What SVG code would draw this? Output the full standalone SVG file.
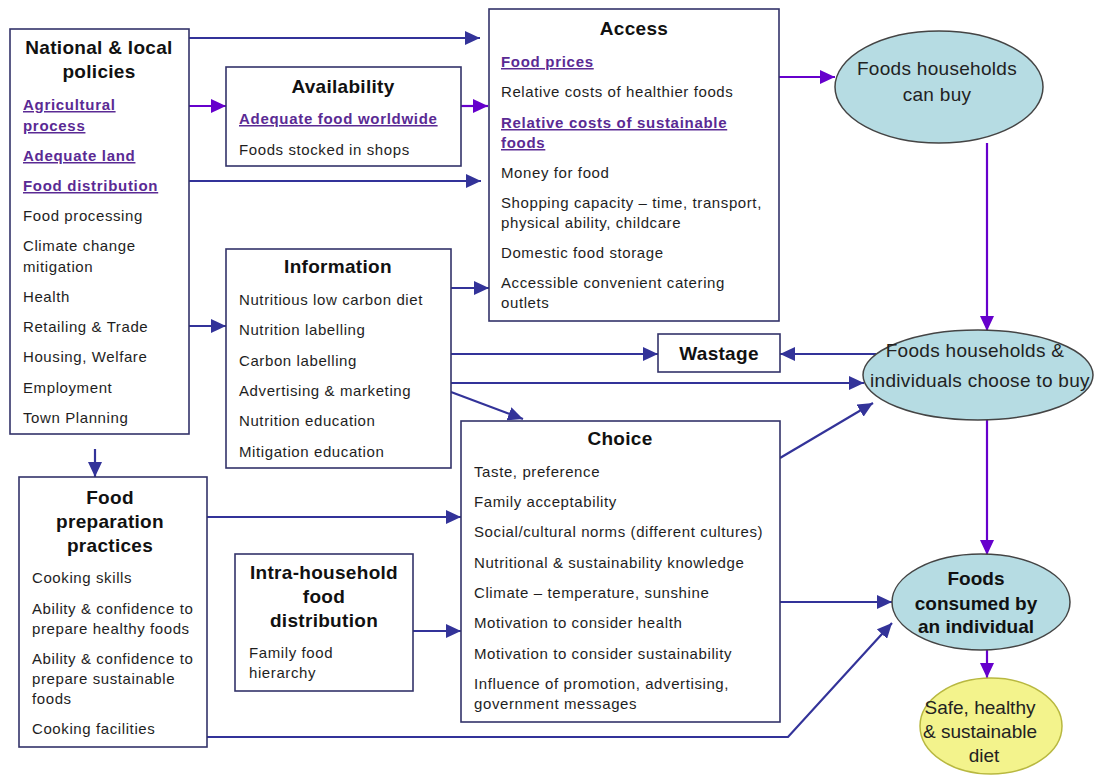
<svg xmlns="http://www.w3.org/2000/svg" width="1094" height="781" viewBox="0 0 1094 781">
<style>
.box{fill:#ffffff;stroke:#33336a;stroke-width:1.6}
.t{font-family:"Liberation Sans",Arial,sans-serif;font-size:15px;letter-spacing:0.6px;fill:#1e1e1e}
.lk{font-family:"Liberation Sans",Arial,sans-serif;font-size:15px;font-weight:bold;letter-spacing:0.7px;fill:#5a2a94;text-decoration:underline}
.h{font-family:"Liberation Sans",Arial,sans-serif;font-size:19px;font-weight:bold;letter-spacing:0.3px;fill:#111;text-anchor:middle}
.e{font-family:"Liberation Sans",Arial,sans-serif;font-size:19px;letter-spacing:0.3px;fill:#222;text-anchor:middle}
.eb{font-family:"Liberation Sans",Arial,sans-serif;font-size:19px;font-weight:bold;fill:#111;text-anchor:middle}
.blue{fill:none;stroke:#333399;stroke-width:2.2;marker-end:url(#ab)}
.pur{fill:none;stroke:#6600cc;stroke-width:2.2;marker-end:url(#ap)}
.ell{fill:#b6dce3;stroke:#444;stroke-width:1.5}
</style>
<defs>
<marker id="ab" markerWidth="16" markerHeight="14" refX="15" refY="7" orient="auto" markerUnits="userSpaceOnUse"><path d="M0,0 L15,7 L0,14 z" fill="#333399"/></marker>
<marker id="ap" markerWidth="16" markerHeight="14" refX="15" refY="7" orient="auto" markerUnits="userSpaceOnUse"><path d="M0,0 L15,7 L0,14 z" fill="#6600cc"/></marker>
</defs>
<rect width="1094" height="781" fill="#ffffff"/>

<g id="connectors">
<path class="blue" d="M189,38 H480"/>
<path class="blue" d="M189,181 H481"/>
<path class="blue" d="M189,326 H226"/>
<path class="blue" d="M451,288 H489"/>
<path class="blue" d="M451,354 H658"/>
<path class="blue" d="M876,354 H780"/>
<path class="blue" d="M451,383 H864"/>
<path class="blue" d="M451,392 L523,419"/>
<path class="blue" d="M95,449 V477"/>
<path class="blue" d="M207,517 H461"/>
<path class="blue" d="M413,631 H461"/>
<path class="blue" d="M780,458 L873,403"/>
<path class="blue" d="M780,602 H892"/>
<path class="blue" d="M207,737 H788 L892,623"/>
<path class="pur" d="M189,106 H226"/>
<path class="pur" d="M461,106 H488"/>
<path class="pur" d="M779,77 H835"/>
<path class="pur" d="M987,143 V331"/>
<path class="pur" d="M987,419 V555"/>
<path class="pur" d="M987,650 V678"/>
</g>

<g id="national">
<rect class="box" x="10" y="29" width="179" height="405"/>
<text class="h" x="99" y="54">National &amp; local</text>
<text class="h" x="99" y="78">policies</text>
<text class="lk" x="23" y="110">Agricultural</text>
<text class="lk" x="23" y="131">process</text>
<text class="lk" x="23" y="161">Adequate land</text>
<text class="lk" x="23" y="191">Food distribution</text>
<text class="t" x="23" y="221">Food processing</text>
<text class="t" x="23" y="251">Climate change</text>
<text class="t" x="23" y="272">mitigation</text>
<text class="t" x="23" y="302">Health</text>
<text class="t" x="23" y="332">Retailing &amp; Trade</text>
<text class="t" x="23" y="362">Housing, Welfare</text>
<text class="t" x="23" y="393">Employment</text>
<text class="t" x="23" y="423">Town Planning</text>
</g>

<g id="availability">
<rect class="box" x="226" y="67" width="235" height="99"/>
<text class="h" x="343" y="93">Availability</text>
<text class="lk" x="239" y="124">Adequate food worldwide</text>
<text class="t" x="239" y="155">Foods stocked in shops</text>
</g>

<g id="access">
<rect class="box" x="489" y="9" width="290" height="312"/>
<text class="h" x="634" y="35">Access</text>
<text class="lk" x="501" y="67">Food prices</text>
<text class="t" x="501" y="97">Relative costs of healthier foods</text>
<text class="lk" x="501" y="128">Relative costs of sustainable</text>
<text class="lk" x="501" y="148">foods</text>
<text class="t" x="501" y="178">Money for food</text>
<text class="t" x="501" y="208">Shopping capacity – time, transport,</text>
<text class="t" x="501" y="228">physical ability, childcare</text>
<text class="t" x="501" y="258">Domestic food storage</text>
<text class="t" x="501" y="288">Accessible convenient catering</text>
<text class="t" x="501" y="308">outlets</text>
</g>

<g id="information">
<rect class="box" x="226" y="249" width="225" height="219"/>
<text class="h" x="338" y="273">Information</text>
<text class="t" x="239" y="305">Nutritious low carbon diet</text>
<text class="t" x="239" y="335">Nutrition labelling</text>
<text class="t" x="239" y="366">Carbon labelling</text>
<text class="t" x="239" y="396">Advertising &amp; marketing</text>
<text class="t" x="239" y="426">Nutrition education</text>
<text class="t" x="239" y="457">Mitigation education</text>
</g>

<g id="wastage">
<rect class="box" x="658" y="334" width="122" height="38"/>
<text class="h" x="719" y="360">Wastage</text>
</g>

<g id="choice">
<rect class="box" x="461" y="421" width="319" height="301"/>
<text class="h" x="620" y="445">Choice</text>
<text class="t" x="474" y="477">Taste, preference</text>
<text class="t" x="474" y="507">Family acceptability</text>
<text class="t" x="474" y="537">Social/cultural norms (different cultures)</text>
<text class="t" x="474" y="568">Nutritional &amp; sustainability knowledge</text>
<text class="t" x="474" y="598">Climate – temperature, sunshine</text>
<text class="t" x="474" y="628">Motivation to consider health</text>
<text class="t" x="474" y="659">Motivation to consider sustainability</text>
<text class="t" x="474" y="689">Influence of promotion, advertising,</text>
<text class="t" x="474" y="709">government messages</text>
</g>

<g id="foodprep">
<rect class="box" x="19" y="477" width="188" height="270"/>
<text class="h" x="110" y="504">Food</text>
<text class="h" x="110" y="528">preparation</text>
<text class="h" x="110" y="552">practices</text>
<text class="t" x="32" y="583">Cooking skills</text>
<text class="t" x="32" y="614">Ability &amp; confidence to</text>
<text class="t" x="32" y="634">prepare healthy foods</text>
<text class="t" x="32" y="664">Ability &amp; confidence to</text>
<text class="t" x="32" y="684">prepare sustainable</text>
<text class="t" x="32" y="704">foods</text>
<text class="t" x="32" y="734">Cooking facilities</text>
</g>

<g id="intrahousehold">
<rect class="box" x="235" y="554" width="178" height="137"/>
<text class="h" x="324" y="579">Intra-household</text>
<text class="h" x="324" y="603">food</text>
<text class="h" x="324" y="627">distribution</text>
<text class="t" x="249" y="658">Family food</text>
<text class="t" x="249" y="678">hierarchy</text>
</g>

<g id="canbuy">
<ellipse class="ell" cx="939" cy="87" rx="104" ry="56"/>
<text class="e" x="937" y="75">Foods households</text>
<text class="e" x="937" y="101">can buy</text>
</g>

<g id="choosetobuy">
<ellipse class="ell" cx="978" cy="375" rx="115" ry="45"/>
<text class="e" x="975" y="357">Foods households &amp;</text>
<text class="e" x="980" y="387">individuals choose to buy</text>
</g>

<g id="consumed">
<ellipse class="ell" cx="981" cy="602" rx="89" ry="48"/>
<text class="eb" x="976" y="585">Foods</text>
<text class="eb" x="976" y="610">consumed by</text>
<text class="eb" x="976" y="633">an individual</text>
</g>

<g id="diet">
<ellipse cx="991" cy="726" rx="71" ry="48" fill="#f3f38c" stroke="#b8b840" stroke-width="1.5"/>
<text class="e" x="980" y="714" style="letter-spacing:0">Safe, healthy</text>
<text class="e" x="980" y="738" style="letter-spacing:0">&amp; sustainable</text>
<text class="e" x="984" y="762" style="letter-spacing:0">diet</text>
</g>
</svg>
